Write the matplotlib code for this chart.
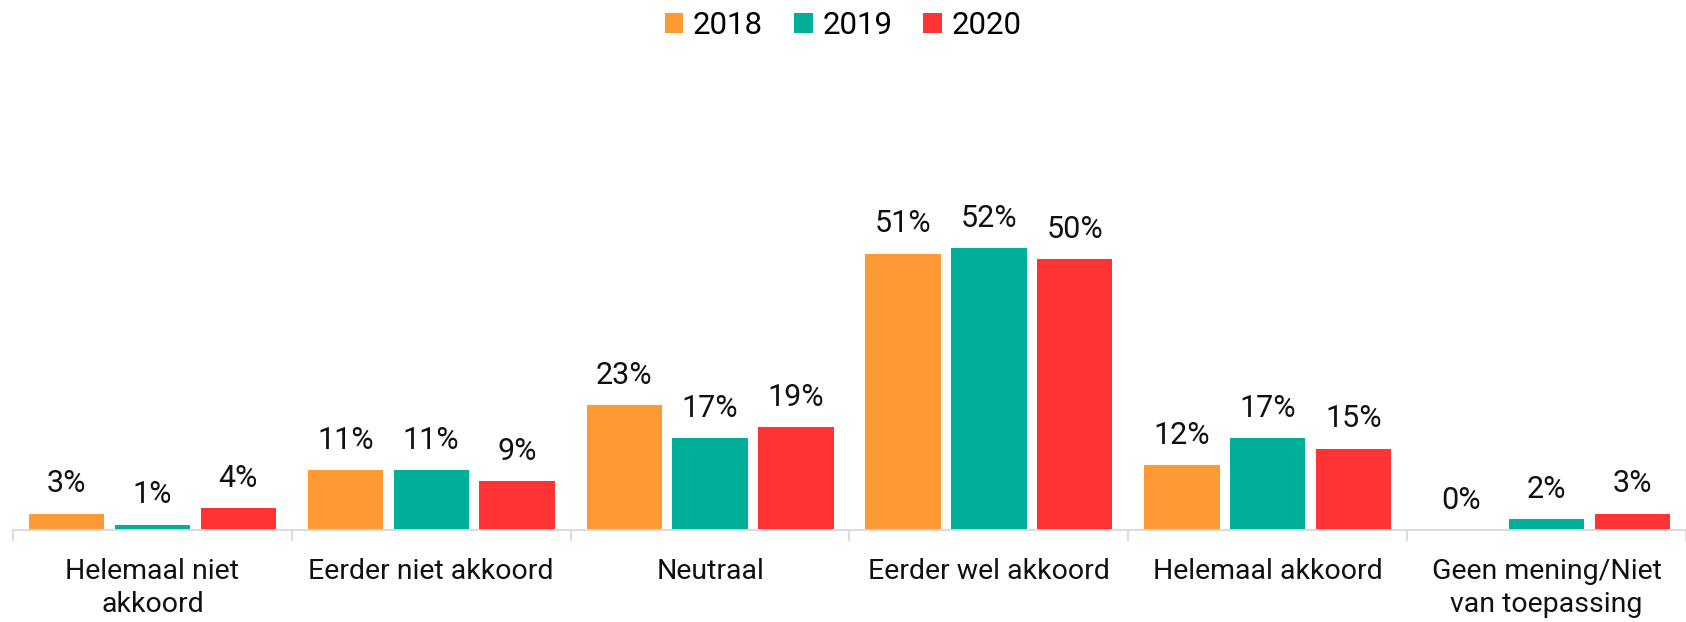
import numpy as np
import matplotlib
matplotlib.use("Agg")
import matplotlib.pyplot as plt

# Data
categories = ["Helemaal niet\nakkoord", "Eerder niet akkoord", "Neutraal",
              "Eerder wel akkoord", "Helemaal akkoord", "Geen mening/Niet\nvan toepassing"]
years = ["2018", "2019", "2020"]
v2018 = [3, 11, 23, 51, 12, 0]
v2019 = [1, 11, 17, 52, 17, 2]
v2020 = [4, 9, 19, 50, 15, 3]
colors = ["#FF9933", "#00AE9A", "#FF3333"]

plt.rcParams['font.family'] = ['Roboto', 'DejaVu Sans']

fig = plt.figure(figsize=(16.86, 6.22), dpi=100)
ax = fig.add_axes([0.0077, 0.148, 0.9923, 0.5225])

x = np.arange(len(categories))
width = 0.27
step = 0.308
for i, (vals, yr) in enumerate(zip([v2018, v2019, v2020], years)):
    bars = ax.bar(x + (i - 1) * step, vals, width, color=colors[i], label=yr)
    for b, v in zip(bars, vals):
        ax.annotate(f"{v}%", (b.get_x() + b.get_width() / 2, v),
                    xytext=(0, 11), textcoords="offset points",
                    ha="center", va="bottom", fontsize=22, color="#111111")

ax.set_xlim(-0.5, len(categories) - 0.5)
ax.set_ylim(0, 60)
ax.set_yticks([])
for s in ["top", "right", "left"]:
    ax.spines[s].set_visible(False)
ax.spines["bottom"].set_color("#D9D9D9")
ax.spines["bottom"].set_linewidth(1.3)

# category separators as minor ticks, labels centred
ax.set_xticks(x)
ax.set_xticklabels(categories, fontsize=20.5, color="#111111", linespacing=1.3)
ax.tick_params(axis="x", which="major", length=0, pad=20)
ax.set_xticks(np.arange(-0.5, len(categories), 1.0), minor=True)
ax.tick_params(axis="x", which="minor", length=8, color="#D9D9D9", width=1.3)

fig.legend(loc="upper center", bbox_to_anchor=(0.5, 1.027), ncol=3, frameon=False,
           fontsize=22.5, handlelength=0.6, handleheight=0.6, handletextpad=0.3,
           columnspacing=1.0)

fig.savefig("out.png", dpi=100)
